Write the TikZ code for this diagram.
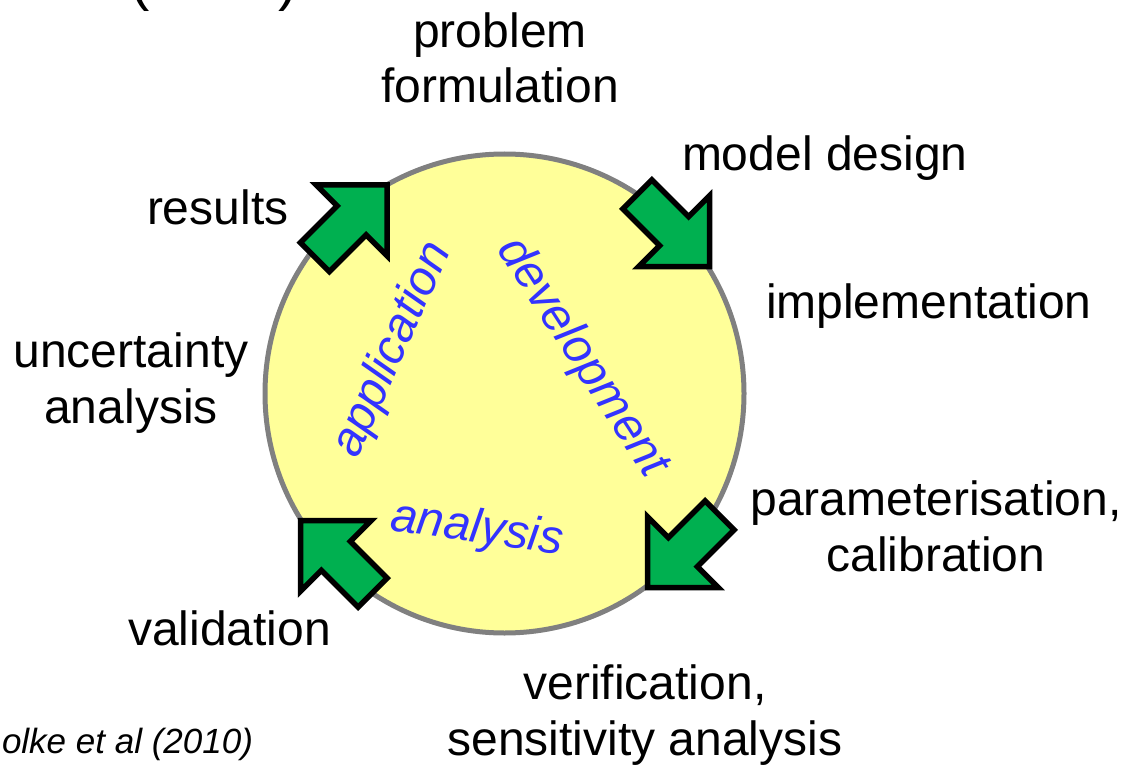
\documentclass[tikz,border=0pt]{standalone}
\usepackage{fontspec}
\setmainfont{Liberation Sans}
\definecolor{cyclefill}{RGB}{255,255,153}
\definecolor{cycleedge}{RGB}{128,128,128}
\definecolor{stepgreen}{RGB}{0,176,80}
\definecolor{phaseblue}{RGB}{51,51,255}
\begin{document}
\begin{tikzpicture}[x=1pt,y=-1pt,
  every node/.style={inner sep=0pt, outer sep=0pt},
  steplabel/.style={font=\fontsize{48}{55.5}\selectfont, align=center, text=black},
  phaselabel/.style={font=\fontsize{48}{55.5}\selectfont\itshape, text=phaseblue},
  blockarrow/.pic={
    \draw[fill=stepgreen, draw=black, line width=5.5pt, line join=miter]
      (0,0) -- (-50,-50) -- (-50,-20.5) -- (-102,-20.5) -- (-102,20.5)
      -- (-50,20.5) -- (-50,50) -- cycle;
  }
]
\useasboundingbox (0,0) rectangle (1136,765);

% title line and reference, partly outside the page
\node[anchor=base east, font=\fontsize{58}{66}\selectfont] (title) at (298,0) {tion (2014)};
\node[anchor=base east, font=\fontsize{35}{40}\selectfont\itshape] (cite) at (253,753) {olke et al (2010)};

% modelling cycle
\node[circle, draw=cycleedge, fill=cyclefill, line width=5pt, minimum size=479pt] (cycle) at (504.5,393.5) {};

% step arrows round the cycle
\pic[rotate=45]   (toresults)  at (387,185) {blockarrow};
\pic[rotate=-45]  (todesign)   at (709.5,266.5) {blockarrow};
\pic[rotate=-135] (tocalib)    at (647.5,587.5) {blockarrow};
\pic[rotate=135]  (tovalid)    at (300.5,520.5) {blockarrow};

% phases inside the cycle
\node[phaselabel, rotate=66]  (application) at (393,350) {application};
\node[phaselabel, rotate=-57] (development) at (582,358) {development};
\node[phaselabel, rotate=-8]  (analysis)    at (477,530) {analysis};

% steps round the cycle (base anchor sits on the last line)
\node[steplabel, anchor=base] (problem) at (500,103) {problem\\formulation};
\node[steplabel, anchor=base west] (design) at (682,171) {model design};
\node[steplabel, anchor=base west] (results) at (147,224) {results};
\node[steplabel, anchor=base west] (implementation) at (766,318) {implementation};
\node[steplabel, anchor=base] (uncertainty) at (131,423) {uncertainty\\analysis};
\node[steplabel, anchor=base] (calibration) at (936,571) {parameterisation,\\calibration};
\node[steplabel, anchor=base west] (validation) at (128,645) {validation};
\node[steplabel, anchor=base] (verification) at (645,755) {verification,\\sensitivity analysis};
\end{tikzpicture}
\end{document}
